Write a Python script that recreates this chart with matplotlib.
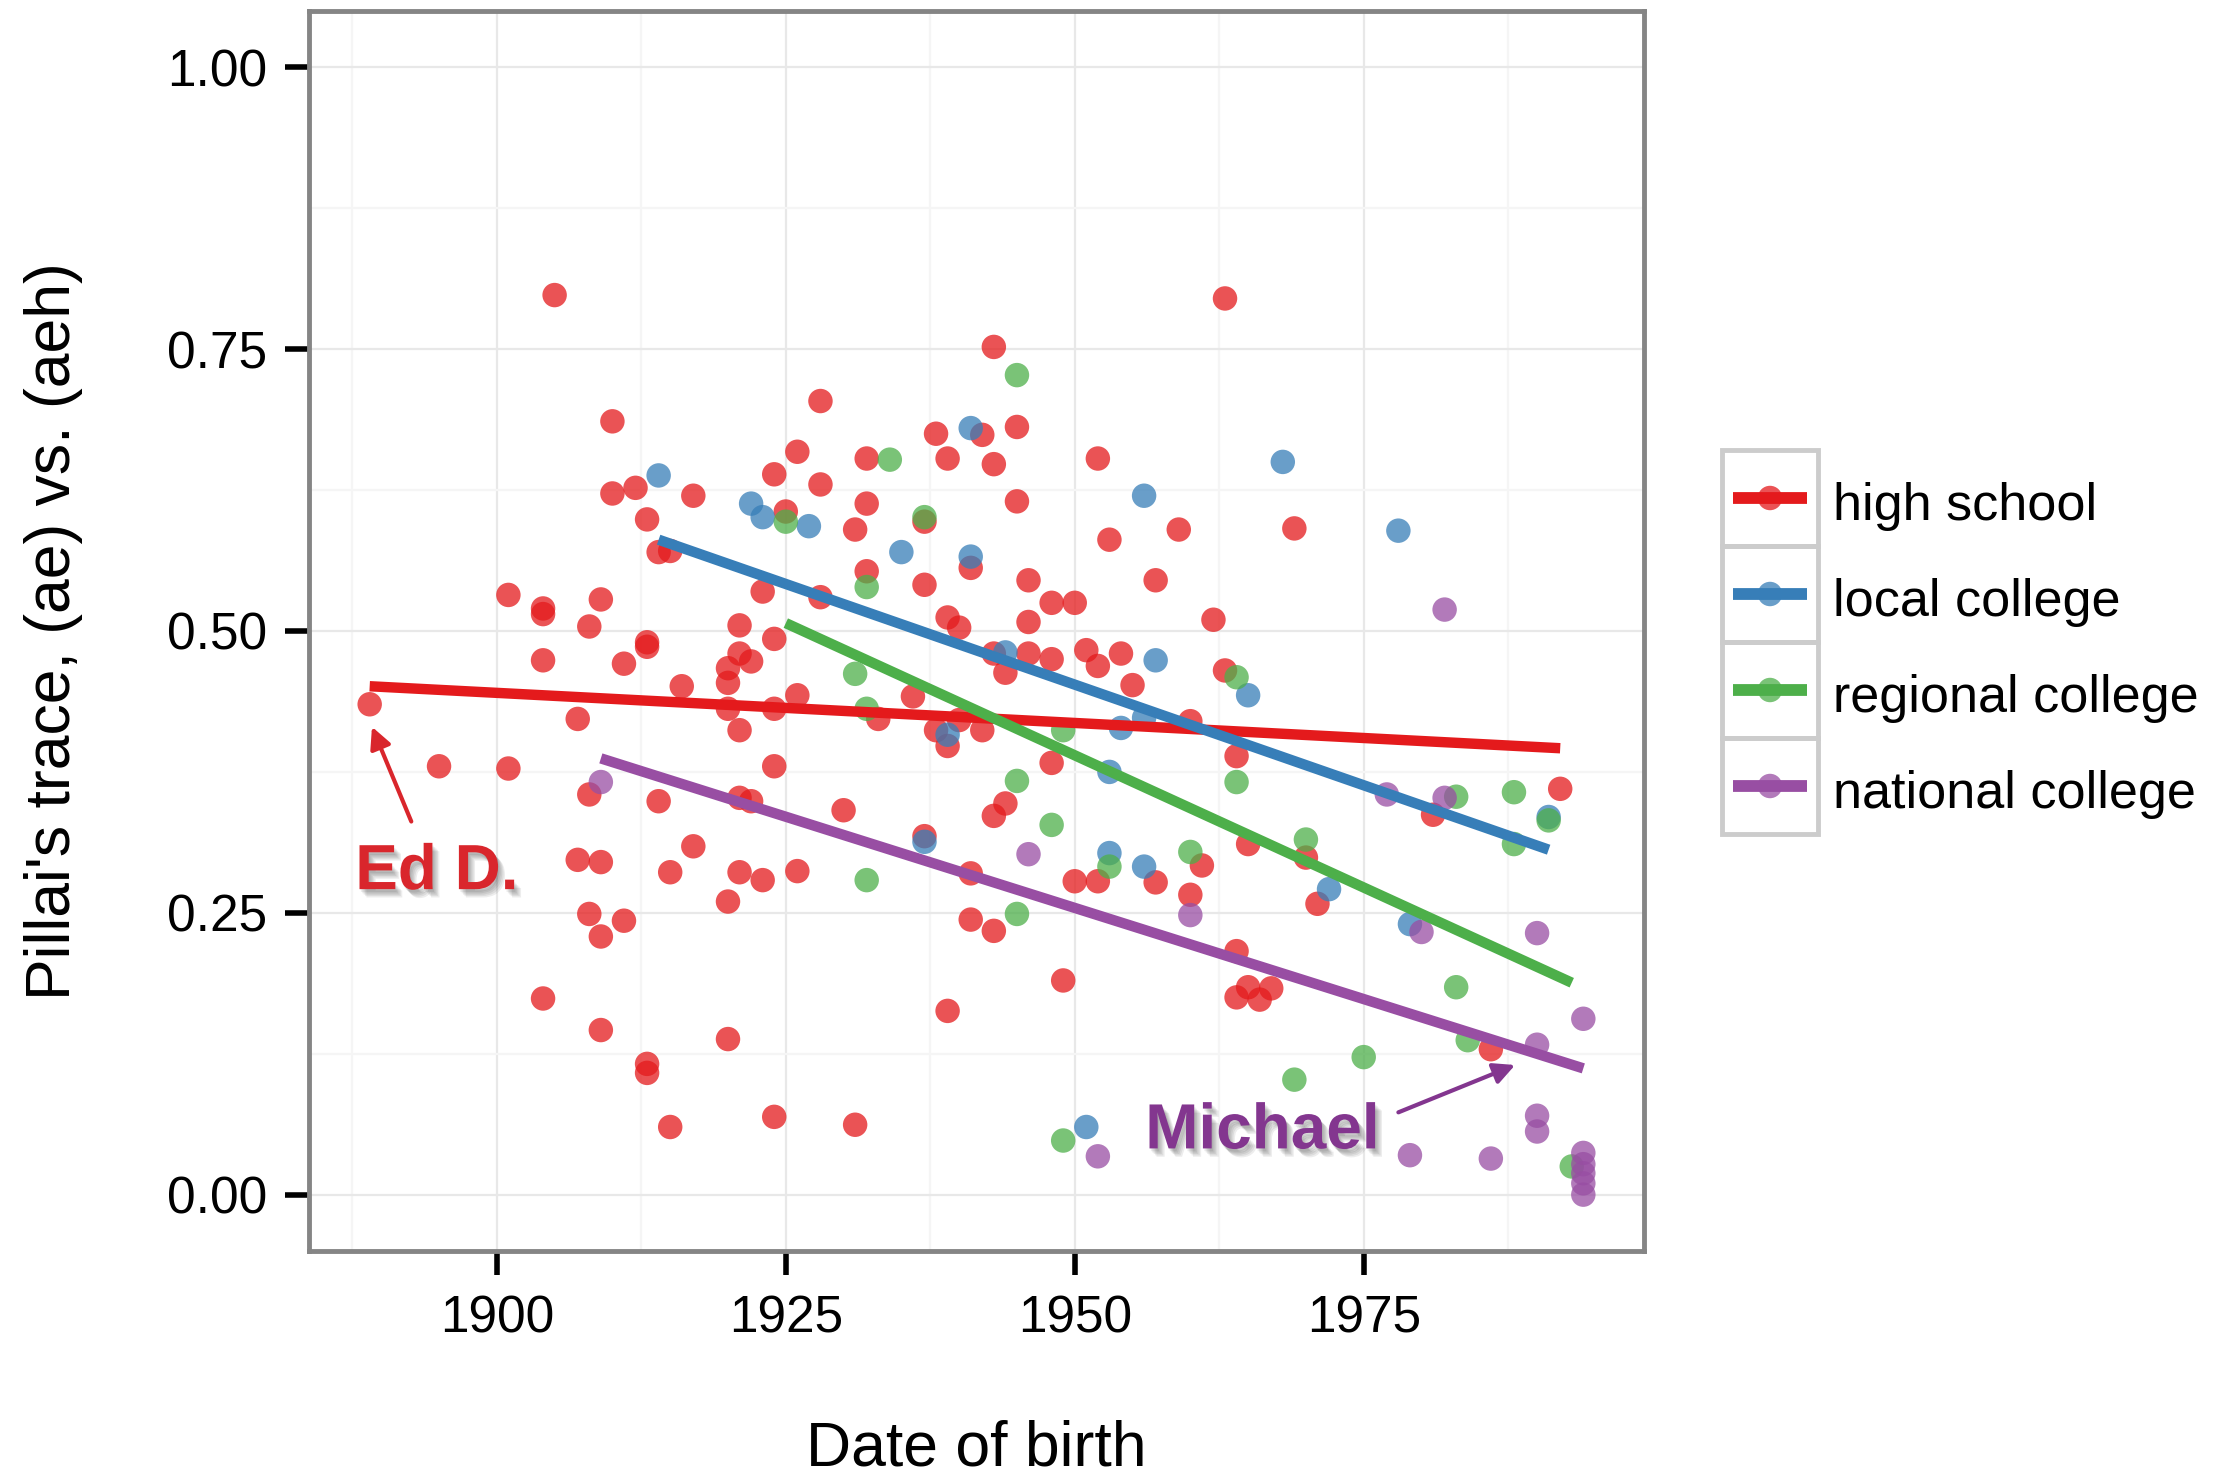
import matplotlib
matplotlib.use('Agg')
import matplotlib.pyplot as plt
import matplotlib.patheffects as pe
from matplotlib.patches import Rectangle

plt.rcParams['font.family'] = ['Liberation Sans', 'DejaVu Sans']

# groups and colours (Set1)
categories = ['high school', 'local college', 'regional college', 'national college']
colors = ['#E41A1C', '#377EB8', '#4DAF4A', '#984EA3']

# high school
hs_year = [1889, 1895, 1901, 1901, 1904, 1904, 1904, 1904, 1905, 1907, 1907, 1908,
           1908, 1908, 1909, 1909, 1909, 1909, 1910, 1910, 1911, 1911, 1912, 1913,
           1913, 1913, 1913, 1913, 1914, 1914, 1915, 1915, 1915, 1916, 1917, 1917,
           1920, 1920, 1920, 1920, 1920, 1921, 1921, 1921, 1921, 1921, 1922, 1922,
           1923, 1923, 1924, 1924, 1924, 1924, 1924, 1925, 1926, 1926, 1926, 1928,
           1928, 1928, 1930, 1931, 1931, 1932, 1932, 1932, 1933, 1936, 1937, 1937,
           1937, 1938, 1938, 1939, 1939, 1939, 1939, 1940, 1940, 1941, 1941, 1941,
           1942, 1942, 1943, 1943, 1943, 1943, 1943, 1944, 1944, 1945, 1945, 1946,
           1946, 1946, 1948, 1948, 1948, 1949, 1950, 1950, 1951, 1952, 1952, 1952,
           1953, 1954, 1955, 1957, 1957, 1959, 1960, 1960, 1961, 1962, 1963, 1963,
           1964, 1964, 1964, 1965, 1965, 1966, 1967, 1969, 1970, 1971, 1981, 1986,
           1992]
hs_pillai = [0.435, 0.380, 0.532, 0.378, 0.520, 0.515, 0.474, 0.174, 0.798, 0.422, 0.297, 0.504,
             0.355, 0.249, 0.528, 0.295, 0.229, 0.146, 0.686, 0.622, 0.471, 0.243, 0.627, 0.599,
             0.490, 0.486, 0.116, 0.108, 0.570, 0.349, 0.571, 0.286, 0.060, 0.451, 0.620, 0.309,
             0.467, 0.454, 0.431, 0.260, 0.138, 0.505, 0.480, 0.412, 0.352, 0.286, 0.473, 0.349,
             0.535, 0.279, 0.639, 0.493, 0.431, 0.380, 0.069, 0.606, 0.659, 0.443, 0.287, 0.704,
             0.630, 0.530, 0.341, 0.590, 0.062, 0.653, 0.613, 0.553, 0.422, 0.442, 0.597, 0.541,
             0.318, 0.675, 0.412, 0.653, 0.512, 0.398, 0.163, 0.503, 0.421, 0.556, 0.285, 0.244,
             0.674, 0.412, 0.752, 0.648, 0.480, 0.336, 0.234, 0.463, 0.347, 0.681, 0.615, 0.545,
             0.508, 0.480, 0.525, 0.475, 0.383, 0.190, 0.525, 0.278, 0.483, 0.653, 0.469, 0.278,
             0.581, 0.480, 0.452, 0.545, 0.277, 0.590, 0.420, 0.266, 0.292, 0.510, 0.795, 0.465,
             0.389, 0.216, 0.175, 0.311, 0.184, 0.173, 0.183, 0.591, 0.299, 0.258, 0.337, 0.129,
             0.360]

# local college
lc_year = [1914, 1922, 1923, 1927, 1935, 1937, 1939, 1941, 1941, 1944, 1951, 1953,
           1953, 1954, 1956, 1956, 1956, 1957, 1965, 1968, 1972, 1978, 1979, 1991]
lc_pillai = [0.638, 0.613, 0.601, 0.593, 0.570, 0.313, 0.408, 0.680, 0.566, 0.481, 0.060, 0.375,
             0.303, 0.414, 0.620, 0.423, 0.291, 0.474, 0.443, 0.650, 0.271, 0.589, 0.240, 0.335]

# regional college
rc_year = [1925, 1931, 1932, 1932, 1932, 1934, 1937, 1945, 1945, 1945, 1948, 1949,
           1949, 1953, 1960, 1964, 1964, 1969, 1970, 1975, 1983, 1983, 1984, 1988,
           1988, 1991, 1993]
rc_pillai = [0.597, 0.462, 0.539, 0.431, 0.279, 0.652, 0.601, 0.727, 0.367, 0.249, 0.328, 0.412,
             0.048, 0.291, 0.304, 0.459, 0.366, 0.102, 0.315, 0.122, 0.353, 0.184, 0.137, 0.357,
             0.311, 0.332, 0.025]

# national college
nc_year = [1909, 1946, 1952, 1960, 1977, 1979, 1980, 1982, 1982, 1986, 1990, 1990,
           1990, 1990, 1994, 1994, 1994, 1994, 1994, 1994]
nc_pillai = [0.366, 0.302, 0.034, 0.248, 0.355, 0.035, 0.233, 0.519, 0.352, 0.032, 0.232, 0.133,
             0.070, 0.056, 0.156, 0.037, 0.027, 0.019, 0.010, 0.000]

# linear trend per group: fitted value at the first and last birth year
fit_start = [0.451, 0.581, 0.507, 0.387]
fit_end = [0.396, 0.306, 0.188, 0.112]

years = [hs_year, lc_year, rc_year, nc_year]
values = [hs_pillai, lc_pillai, rc_pillai, nc_pillai]

W, H = 2222, 1476
fig = plt.figure(figsize=(W / 100, H / 100), dpi=100)
ax = fig.add_axes([309 / W, 1 - 1251 / H, (1644 - 309) / W, (1251 - 11) / H])

for yr, val, c in zip(years, values, colors):
    ax.scatter(yr, val, s=310, color=c, alpha=0.75, edgecolors='none', zorder=2)
for yr, s0, s1, c in zip(years, fit_start, fit_end, colors):
    ax.plot([min(yr), max(yr)], [s0, s1], color=c, lw=7.5, solid_capstyle='butt', zorder=3)

ax.set_xlim(1883.75, 1999.25)
ax.set_ylim(-0.05, 1.05)
ax.set_xticks([1900, 1925, 1950, 1975])
ax.set_xticks([1887.5, 1912.5, 1937.5, 1962.5, 1987.5], minor=True)
ax.set_yticks([0, 0.25, 0.5, 0.75, 1.0])
ax.set_yticklabels(['0.00', '0.25', '0.50', '0.75', '1.00'])
ax.set_yticks([0.125, 0.375, 0.625, 0.875], minor=True)
ax.grid(which='major', color='#e8e8e8', lw=1.6)
ax.grid(which='minor', color='#f5f5f5', lw=1.6)
ax.set_axisbelow(True)
for sp in ax.spines.values():
    sp.set_color('#858585')
    sp.set_linewidth(3.5)
ax.tick_params(which='major', length=17, width=4, color='black', labelsize=37, labelcolor='black')
ax.tick_params(axis='x', which='major', pad=14)
ax.tick_params(axis='y', which='major', pad=13)
ax.tick_params(which='minor', length=0)

ax.set_xlabel('Date of birth', fontsize=45, va='baseline')
ax.xaxis.set_label_coords(0.5, (1251 - 1466) / 1240)
ax.set_ylabel("Pillai's trace, (ae) vs. (aeh)", fontsize=45, va='baseline')
ax.yaxis.set_label_coords((70 - 309) / 1335, 0.5)

# annotations
shadow = [pe.SimplePatchShadow(offset=(k, -k - 1), shadow_rgbFace='black', alpha=0.07)
          for k in (1, 2, 3, 4, 5)] + [pe.Normal()]
ed_col = '#d9262c'
mi_col = '#83368f'
ax.annotate('', xy=(1889.2, 0.415), xytext=(1892.6, 0.331),
            arrowprops=dict(arrowstyle='-|>', color=ed_col, lw=3, mutation_scale=32,
                            shrinkA=0, shrinkB=0), zorder=4)
ax.text(1887.75, 0.271, 'Ed D.', fontsize=46, fontweight='bold', color=ed_col,
        ha='left', va='baseline', path_effects=shadow, zorder=4)
ax.annotate('', xy=(1988.1, 0.115), xytext=(1978.0, 0.073),
            arrowprops=dict(arrowstyle='-|>', color=mi_col, lw=3, mutation_scale=32,
                            shrinkA=0, shrinkB=0), zorder=4)
ax.text(1956.1, 0.041, 'Michael', fontsize=46, fontweight='bold', color=mi_col,
        ha='left', va='baseline', path_effects=shadow, zorder=4)

# legend with boxed keys, laid out in figure pixels
lax = fig.add_axes([0, 0, 1, 1])
lax.set_xlim(0, W)
lax.set_ylim(H, 0)
lax.axis('off')
key_x, key_top, key_size = 1722, 450, 96
for i, (lab, c) in enumerate(zip(categories, colors)):
    top = key_top + i * key_size
    cy = top + key_size / 2
    lax.add_patch(Rectangle((key_x, top), key_size, key_size, fill=False,
                            edgecolor='#cccccc', lw=3.5))
    lax.scatter([key_x + key_size / 2], [cy], s=310, color=c, alpha=0.75,
                edgecolors='none', zorder=2)
    lax.plot([key_x + 11, key_x + key_size - 11], [cy, cy], color=c, lw=8.5,
             solid_capstyle='butt', zorder=3)
    lax.text(1833, cy + 22, lab, fontsize=37.5, ha='left', va='baseline', color='black')

fig.savefig('out.png', dpi=100)
